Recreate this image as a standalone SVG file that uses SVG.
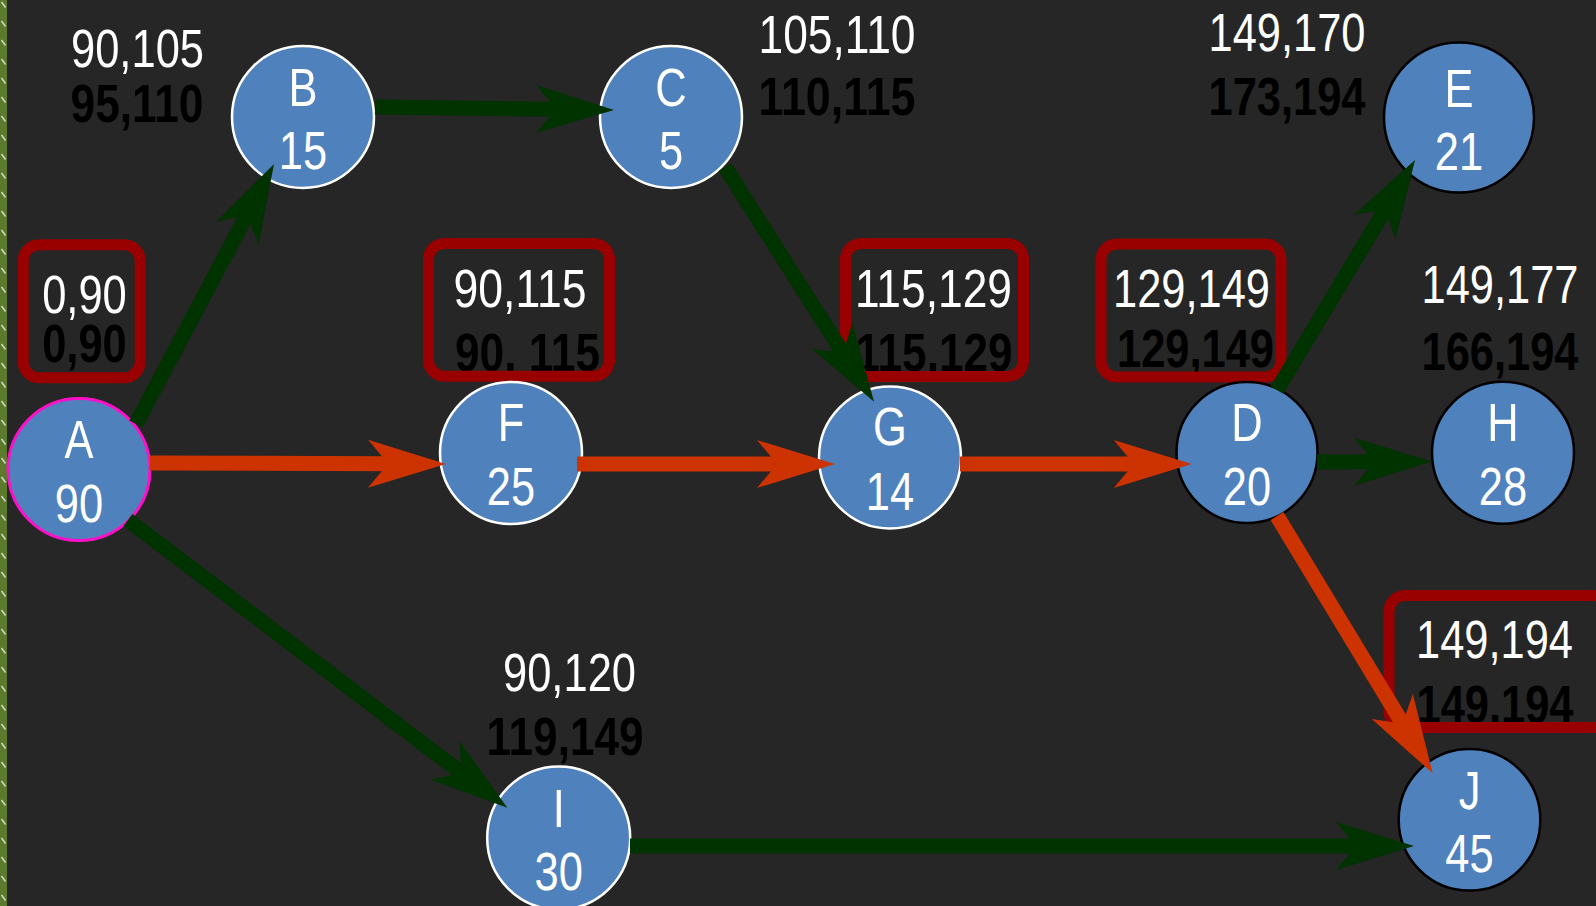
<svg xmlns="http://www.w3.org/2000/svg" width="1596" height="906" viewBox="0 0 1596 906">
  <style>
    .t { font-family: "Liberation Sans Narrow", "Liberation Sans", Arial, sans-serif; font-size: 53px; text-anchor: middle; }
    .es { fill: #ffffff; }
    .ls { fill: #000000; font-weight: bold; }
    .nt { fill: #ffffff; }
    .node { fill: #4f81bd; stroke-width: 2.5; }
    .nw { stroke: #ffffff; }
    .nk { stroke: #000000; }
    .start { stroke: #ff10c8; stroke-width: 3; }
    .box { fill: none; stroke: #990000; stroke-width: 11; }
    .edge { fill: none; stroke-width: 15; stroke-linecap: butt; }
    .g { stroke: #003300; marker-end: url(#arrG); }
    .r { stroke: #cc3300; marker-end: url(#arrR); }
  </style>
  <defs>
    <marker id="arrG" markerUnits="userSpaceOnUse" markerWidth="80" markerHeight="50" viewBox="0 -25 80 50" refX="30" refY="0" orient="auto" overflow="visible">
      <path d="M0,-24 L78,0 L0,24 L20,0 Z" fill="#003300"/>
    </marker>
    <marker id="arrR" markerUnits="userSpaceOnUse" markerWidth="80" markerHeight="50" viewBox="0 -25 80 50" refX="30" refY="0" orient="auto" overflow="visible">
      <path d="M0,-24 L78,0 L0,24 L20,0 Z" fill="#cc3300"/>
    </marker>
    <pattern id="edgeStripe" width="7" height="19" patternUnits="userSpaceOnUse">
      <rect width="7" height="19" fill="#5b7a2c"/>
      <path d="M1.5,2 L5.5,7.5" stroke="#d6ddd0" stroke-width="1.4"/>
    </pattern>
  </defs>

  <!-- canvas -->
  <rect width="1596" height="906" fill="#262626"/>
  <rect x="0" y="0" width="7" height="906" fill="url(#edgeStripe)"/>

  <!-- activity nodes with their time labels -->
  <g id="node-A">
    <text class="t es" x="84.5" y="312.5" textLength="84.6" lengthAdjust="spacingAndGlyphs">0,90</text>
    <text class="t ls" x="84.5" y="361.5" textLength="84.6" lengthAdjust="spacingAndGlyphs">0,90</text>
    <rect class="box" x="23.2" y="244.8" width="117" height="133" rx="16"/>
    <circle class="node start" cx="79" cy="469.5" r="71"/>
    <text class="t nt" x="79" y="457.5" textLength="29" lengthAdjust="spacingAndGlyphs">A</text>
    <text class="t nt" x="79" y="521.5" textLength="48.3" lengthAdjust="spacingAndGlyphs">90</text>
  </g>

  <g id="node-B">
    <text class="t es" x="137.5" y="67" textLength="133" lengthAdjust="spacingAndGlyphs">90,105</text>
    <text class="t ls" x="137" y="121.5" textLength="133" lengthAdjust="spacingAndGlyphs">95,110</text>
    <circle class="node nw" cx="303" cy="117" r="71"/>
    <text class="t nt" x="303" y="106" textLength="29" lengthAdjust="spacingAndGlyphs">B</text>
    <text class="t nt" x="303" y="168.5" textLength="48.3" lengthAdjust="spacingAndGlyphs">15</text>
  </g>

  <g id="node-C">
    <text class="t es" x="837" y="53" textLength="157" lengthAdjust="spacingAndGlyphs">105,110</text>
    <text class="t ls" x="837" y="115" textLength="157" lengthAdjust="spacingAndGlyphs">110,115</text>
    <circle class="node nw" cx="671" cy="117" r="71"/>
    <text class="t nt" x="671" y="106" textLength="31.4" lengthAdjust="spacingAndGlyphs">C</text>
    <text class="t nt" x="671" y="168.5" textLength="24.2" lengthAdjust="spacingAndGlyphs">5</text>
  </g>

  <g id="node-F">
    <text class="t es" x="520" y="307" textLength="133" lengthAdjust="spacingAndGlyphs">90,115</text>
    <text class="t ls" x="527.5" y="370.7" textLength="145" lengthAdjust="spacingAndGlyphs">90, 115</text>
    <rect class="box" x="428.5" y="243.5" width="181" height="132.7" rx="16"/>
    <circle class="node nw" cx="511" cy="453" r="71"/>
    <text class="t nt" x="511" y="441" textLength="26.6" lengthAdjust="spacingAndGlyphs">F</text>
    <text class="t nt" x="511" y="505" textLength="48.3" lengthAdjust="spacingAndGlyphs">25</text>
  </g>

  <g id="node-G">
    <text class="t es" x="933.5" y="307" textLength="157" lengthAdjust="spacingAndGlyphs">115,129</text>
    <text class="t ls" x="934" y="371" textLength="157" lengthAdjust="spacingAndGlyphs">115,129</text>
    <rect class="box" x="845.5" y="243.5" width="178" height="133" rx="16"/>
    <circle class="node nw" cx="890" cy="457.5" r="71"/>
    <text class="t nt" x="890" y="445" textLength="33.8" lengthAdjust="spacingAndGlyphs">G</text>
    <text class="t nt" x="890" y="510" textLength="48.3" lengthAdjust="spacingAndGlyphs">14</text>
  </g>

  <g id="node-D">
    <text class="t es" x="1191.5" y="306.5" textLength="157" lengthAdjust="spacingAndGlyphs">129,149</text>
    <text class="t ls" x="1195.5" y="366.7" textLength="157" lengthAdjust="spacingAndGlyphs">129,149</text>
    <rect class="box" x="1101" y="244" width="180" height="133" rx="16"/>
    <circle class="node nk" cx="1247" cy="452.5" r="70.5"/>
    <text class="t nt" x="1247" y="441" textLength="31.4" lengthAdjust="spacingAndGlyphs">D</text>
    <text class="t nt" x="1247" y="505" textLength="48.3" lengthAdjust="spacingAndGlyphs">20</text>
  </g>

  <g id="node-E">
    <text class="t es" x="1287" y="51" textLength="157" lengthAdjust="spacingAndGlyphs">149,170</text>
    <text class="t ls" x="1287" y="115.4" textLength="157" lengthAdjust="spacingAndGlyphs">173,194</text>
    <circle class="node nk" cx="1459" cy="117.5" r="75"/>
    <text class="t nt" x="1459" y="106.5" textLength="29" lengthAdjust="spacingAndGlyphs">E</text>
    <text class="t nt" x="1459" y="169.5" textLength="48.3" lengthAdjust="spacingAndGlyphs">21</text>
  </g>

  <g id="node-H">
    <text class="t es" x="1500" y="303" textLength="157" lengthAdjust="spacingAndGlyphs">149,177</text>
    <text class="t ls" x="1500" y="370" textLength="157" lengthAdjust="spacingAndGlyphs">166,194</text>
    <circle class="node nk" cx="1503" cy="452.7" r="71"/>
    <text class="t nt" x="1503" y="441" textLength="31.4" lengthAdjust="spacingAndGlyphs">H</text>
    <text class="t nt" x="1503" y="505" textLength="48.3" lengthAdjust="spacingAndGlyphs">28</text>
  </g>

  <g id="node-I">
    <text class="t es" x="569.5" y="690.7" textLength="133" lengthAdjust="spacingAndGlyphs">90,120</text>
    <text class="t ls" x="565" y="755" textLength="157" lengthAdjust="spacingAndGlyphs">119,149</text>
    <circle class="node nw" cx="558.7" cy="838" r="71.5"/>
    <text class="t nt" x="558.7" y="827" textLength="12.1" lengthAdjust="spacingAndGlyphs">I</text>
    <text class="t nt" x="558.7" y="890" textLength="48.3" lengthAdjust="spacingAndGlyphs">30</text>
  </g>

  <g id="node-J">
    <text class="t es" x="1494.5" y="658" textLength="157" lengthAdjust="spacingAndGlyphs">149,194</text>
    <text class="t ls" x="1495" y="722.7" textLength="157" lengthAdjust="spacingAndGlyphs">149,194</text>
    <rect class="box" x="1389" y="595.5" width="220" height="132" rx="16"/>
    <circle class="node nk" cx="1469.5" cy="819.7" r="70.8"/>
    <text class="t nt" x="1469.5" y="808.5" textLength="21.7" lengthAdjust="spacingAndGlyphs">J</text>
    <text class="t nt" x="1469.5" y="871.5" textLength="48.3" lengthAdjust="spacingAndGlyphs">45</text>
  </g>

  <!-- precedence arrows: red = critical path, green = slack -->
  <g id="connectors">
    <path id="A-B" class="edge g" d="M136,424 L251.5,206.4"/>
    <path id="B-C" class="edge g" d="M375,107 L566,109.4"/>
    <path id="C-G" class="edge g" d="M725,167 L848.3,361.2"/>
    <path id="A-F" class="edge r" d="M150,463 L398,463.8"/>
    <path id="F-G" class="edge r" d="M577,464 L787,464"/>
    <path id="G-D" class="edge r" d="M960,464 L1143.7,464"/>
    <path id="D-E" class="edge g" d="M1277,390 L1390.3,201.2"/>
    <path id="D-H" class="edge g" d="M1317,462 L1384,461.7"/>
    <path id="D-J" class="edge r" d="M1277,516 L1407.8,732.2"/>
    <path id="A-I" class="edge g" d="M128,520 L469.1,778.7"/>
    <path id="I-J" class="edge g" d="M630,846 L1366,846"/>
  </g>
</svg>
